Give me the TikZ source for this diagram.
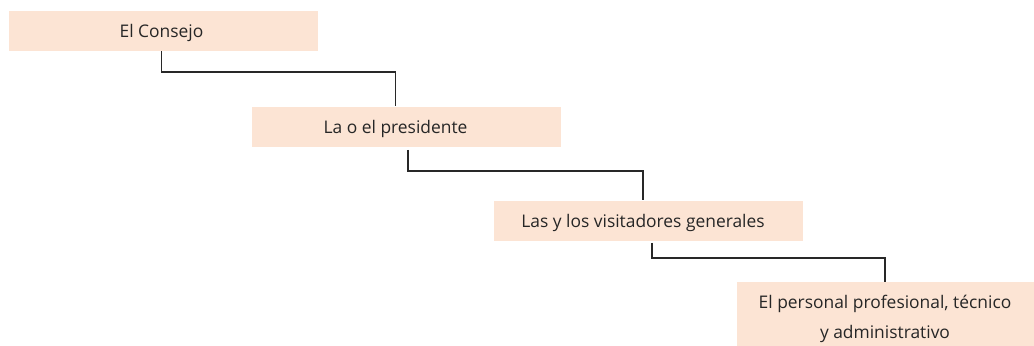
\documentclass[tikz,border=0pt]{standalone}
\usepackage{fontspec}
\setmainfont{Open Sans}
\usepackage{tikz}
\definecolor{peach}{RGB}{252,228,212}
\definecolor{linegray}{RGB}{40,40,40}

\begin{document}
\begin{tikzpicture}[x=0.5pt,y=-0.5pt,
  box/.style={fill=peach,draw=none,minimum width=154.5pt,minimum height=20pt,inner sep=0pt},
  bigbox/.style={fill=peach,draw=none,minimum width=149pt,minimum height=35pt,inner sep=0pt},
  lbl/.style={font=\fontsize{8.7}{15}\selectfont,text=black!85,inner sep=0pt,align=center},
  link/.style={draw=linegray,line width=0.6pt}]
\useasboundingbox (0,0) rectangle (1034,345);
\clip (0,0) rectangle (1034,345);
\node[box] (b1) at (163.5,31) {};
\node[lbl] (t1) at (161.5,33) {El Consejo};
\node[box] (b2) at (406.5,126.5) {};
\node[lbl] (t2) at (395.5,128.5) {La o el presidente};
\node[box] (b3) at (648.5,220.5) {};
\node[lbl] (t3) at (643,222.5) {Las y los visitadores generales};
\node[bigbox] (b4) at (885.5,317) {};
\node[lbl] (t4) at (885,319) {El personal profesional, técnico\\y administrativo};
\coordinate (k1) at (0,72);
\coordinate (k2) at (0,171);
\coordinate (k3) at (0,258);
\draw[link] (b1.south -| t1.center) -- (k1 -| t1.center) -- (k1 -| t2.center) -- (b2.north -| t2.center);
\draw[link] ([yshift=-1.5pt]b2.south -| 408,0) -- (k2 -| 408,0) -- (k2 -| t3.center) -- (b3.north -| t3.center);
\draw[link] ([yshift=-1pt]b3.south -| 652,0) -- (k3 -| 652,0) -- (k3 -| t4.center) -- (b4.north -| t4.center);
\end{tikzpicture}
\end{document}
